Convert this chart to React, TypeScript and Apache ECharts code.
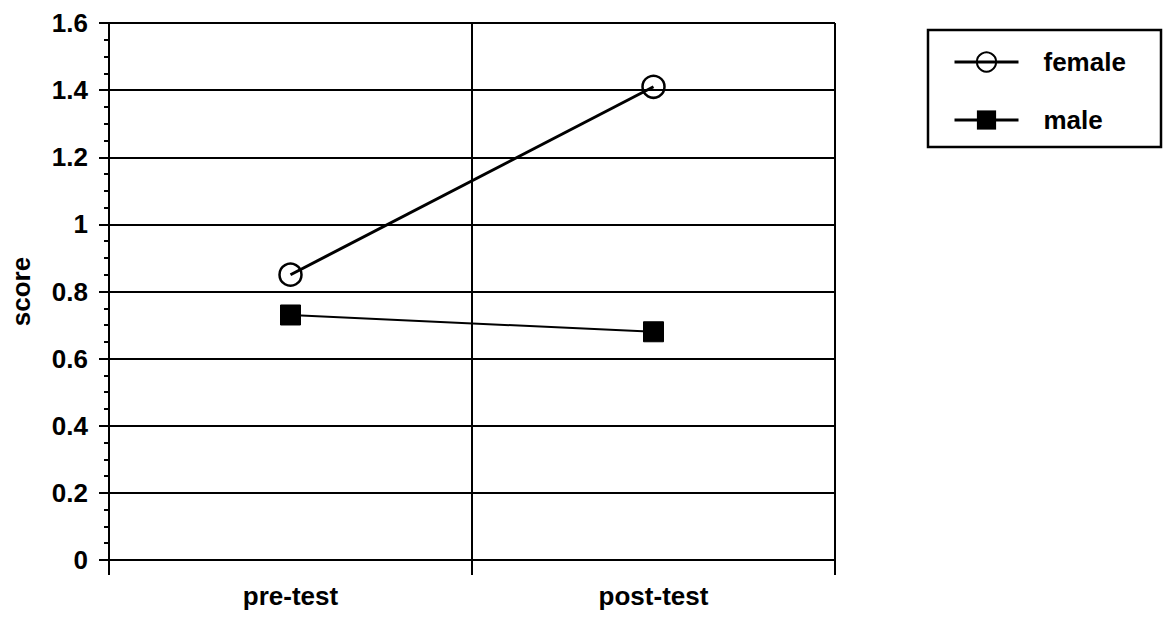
import React, { useEffect, useRef } from "react";
import * as echarts from "echarts";

const categories = ["pre-test", "post-test"];
const femaleValues = [0.85, 1.41];
const maleValues = [0.73, 0.68];
const yTicks = { min: 0, max: 1.6, interval: 0.2 };

export default function App() {
  const ref = useRef<HTMLDivElement>(null);
  useEffect(() => {
    if (!ref.current) return;
    const chart = echarts.init(ref.current, null, { renderer: "svg" });
    const font = "'Liberation Sans', Arial, Helvetica, sans-serif";
    const txt = { color: "#000", fontSize: 26, fontWeight: "bold", fontFamily: font };
    chart.setOption({
      animation: false,
      backgroundColor: "#fff",
      textStyle: { fontFamily: font, color: "#000" },
      grid: { left: 107, right: 330, top: 23, bottom: 62 },
      xAxis: {
        type: "category",
        data: categories,
        boundaryGap: true,
        axisLine: { show: true, lineStyle: { color: "#000", width: 2 } },
        axisTick: { show: true, length: 15, lineStyle: { color: "#000", width: 2 } },
        axisLabel: { ...txt, margin: 23 },
        splitLine: { show: true, lineStyle: { color: "#000", width: 2 } },
      },
      yAxis: {
        type: "value",
        min: yTicks.min,
        max: yTicks.max,
        interval: yTicks.interval,
        name: "score",
        nameLocation: "middle",
        nameGap: 75,
        nameTextStyle: { ...txt },
        axisLine: { show: true, lineStyle: { color: "#000", width: 2 } },
        axisTick: { show: true, length: 10, lineStyle: { color: "#000", width: 2 } },
        minorTick: { show: true, splitNumber: 4, length: 5, lineStyle: { color: "#000", width: 2 } },
        axisLabel: { ...txt, margin: 21 },
        splitLine: { show: true, lineStyle: { color: "#000", width: 2 } },
      },
      legend: {
        orient: "vertical",
        left: 953,
        top: 49,
        padding: 0,
        itemWidth: 64,
        itemHeight: 24,
        itemGap: 32,
        textStyle: { ...txt, padding: [0, 0, 0, 20] },
        lineStyle: { width: 3 },
        data: ["female", "male"],
      },
      graphic: [
        {
          type: "rect",
          shape: { x: 928, y: 30, width: 233, height: 117 },
          style: { fill: "none", stroke: "#000", lineWidth: 2.5 },
        },
      ],
      series: [
        {
          name: "female",
          type: "line",
          data: femaleValues,
          symbol: "circle",
          symbolSize: 22,
          color: "#000",
          lineStyle: { color: "#000", width: 3 },
          itemStyle: { color: "none", borderColor: "#000", borderWidth: 2.5 },
          z: 3,
        },
        {
          name: "male",
          type: "line",
          data: maleValues,
          symbol: "rect",
          symbolSize: 20,
          color: "#000",
          lineStyle: { color: "#000", width: 2 },
          itemStyle: { color: "#000", borderColor: "#000" },
          z: 3,
        },
      ],
    });
    return () => chart.dispose();
  }, []);
  return (
    <div
      ref={ref}
      style={{ position: "fixed", left: 0, top: 0, width: 1165, height: 622, background: "#fff" }}
    />
  );
}
